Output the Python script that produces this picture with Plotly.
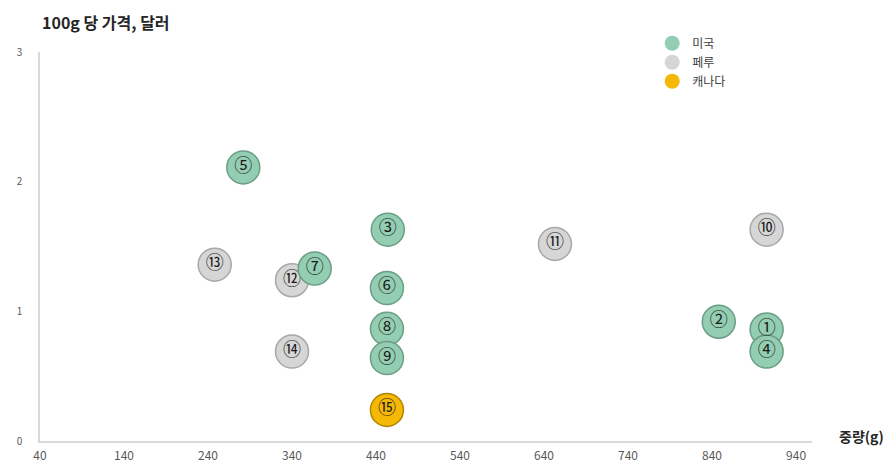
import plotly.graph_objects as go

# Data
countries = ["미국", "페루", "캐나다"]
labels_us = ["①", "②", "③", "④", "⑤", "⑥", "⑦", "⑧", "⑨"]
weight_us = [905, 848, 454, 905, 282, 453, 367, 453, 453]
price_us = [0.86, 0.92, 1.63, 0.69, 2.11, 1.18, 1.33, 0.865, 0.64]

labels_pe = ["⑩", "⑪", "⑫", "⑬", "⑭"]
weight_pe = [905, 653, 340, 248, 340]
price_pe = [1.63, 1.52, 1.24, 1.36, 0.69]

labels_ca = ["⑮"]
weight_ca = [453]
price_ca = [0.24]

x_ticks = [40, 140, 240, 340, 440, 540, 640, 740, 840, 940]
y_ticks = [0, 1, 2, 3]

colors = {"미국": ("#93cdb2", "#6a9e85"), "페루": ("#d6d6d6", "#a8a8a8"), "캐나다": ("#f5b805", "#b08600")}
FONT = "Noto Sans CJK KR"

fig = go.Figure()
series = {
    "미국": (weight_us, price_us, labels_us),
    "페루": (weight_pe, price_pe, labels_pe),
    "캐나다": (weight_ca, price_ca, labels_ca),
}
for name in ["페루", "미국", "캐나다"]:
    xs, ys, labs = series[name]
    fill, edge = colors[name]
    fig.add_trace(go.Scatter(
        x=xs, y=ys, mode="markers", name=name,
        marker=dict(size=33, color=fill, line=dict(color=edge, width=1.5)),
        hoverinfo="skip", showlegend=False,
    ))
    fig.add_trace(go.Scatter(
        x=xs, y=ys, mode="text", text=labs, showlegend=False,
        textfont=dict(family=FONT, size=18, color="#1a1a1a"),
        textposition="middle center", hoverinfo="skip",
    ))

for name in countries:
    fill, edge = colors[name]
    fig.add_trace(go.Scatter(
        x=[None], y=[None], mode="markers", name=name,
        marker=dict(size=15, color=fill, line=dict(color=fill, width=0)),
    ))

fig.update_layout(
    width=887, height=457,
    margin=dict(l=32, r=83, t=44, b=24, autoexpand=False),
    plot_bgcolor="white", paper_bgcolor="white",
    font=dict(family=FONT, size=11, color="#595959"),
    legend=dict(x=0.793, y=1.06, xanchor="left", yanchor="top",
                font=dict(family=FONT, size=12, color="#404040"),
                bgcolor="rgba(0,0,0,0)", tracegroupgap=0, itemwidth=30),
    xaxis=dict(range=[40, 959], tickvals=x_ticks, ticktext=[str(v) for v in x_ticks],
               showgrid=False, zeroline=False, showline=True, linecolor="#d9d9d9", linewidth=1.5,
               ticks="", ticklabelstandoff=3, tickfont=dict(size=12, color="#595959")),
    yaxis=dict(range=[0, 3], tickvals=y_ticks, ticktext=[str(v) for v in y_ticks],
               showgrid=False, zeroline=False, showline=True, linecolor="#d9d9d9", linewidth=1.5,
               ticks="", ticklabelstandoff=14, tickfont=dict(size=10, color="#595959")),
    annotations=[
        dict(text="<b>100g 당 가격, 달러</b>", xref="paper", yref="paper", x=0, y=1.077,
             xanchor="left", yanchor="middle", showarrow=False,
             font=dict(family=FONT, size=16, color="#262626")),
        dict(text="<b>중량(g)</b>", xref="paper", yref="paper", x=1.032, y=0.012,
             xanchor="left", yanchor="middle", showarrow=False,
             font=dict(family=FONT, size=14, color="#262626")),
    ],
)

fig.write_html("out.html")
